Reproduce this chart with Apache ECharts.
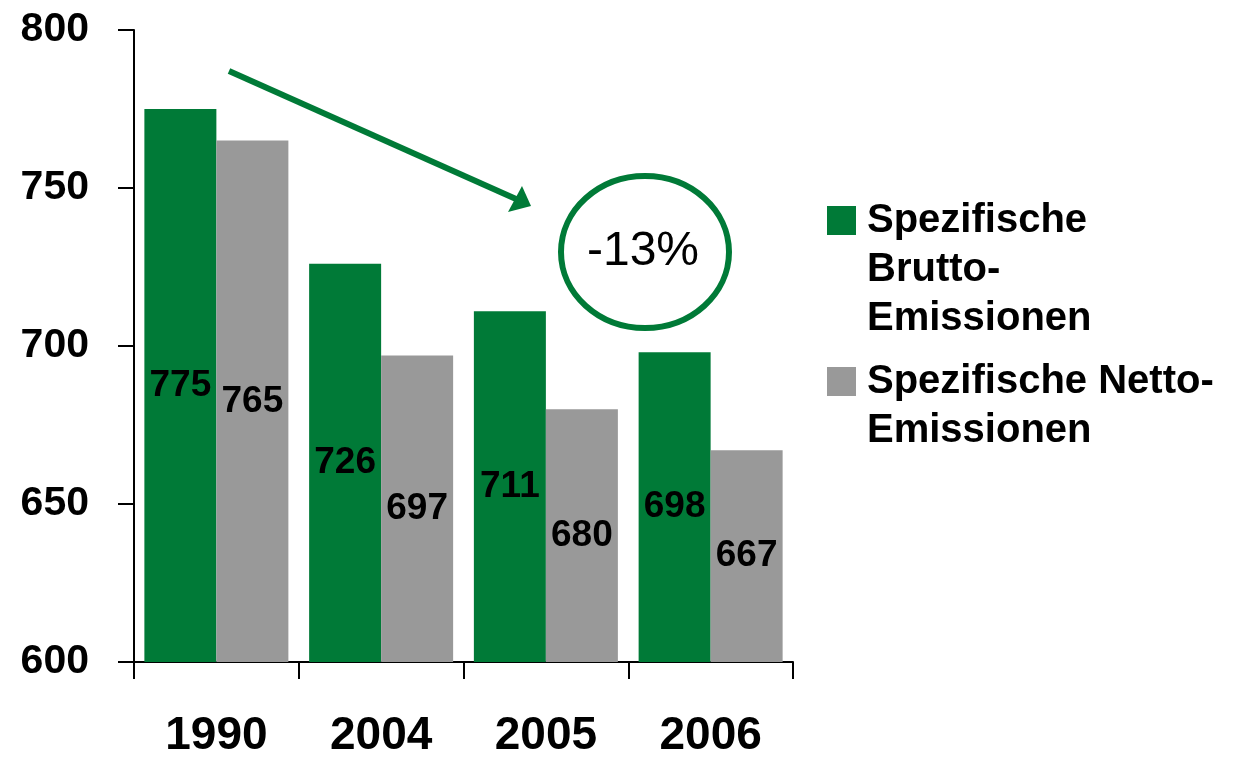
<!DOCTYPE html>
<html>
<head>
<meta charset="utf-8">
<script src="https://cdn.jsdelivr.net/npm/echarts@6/dist/echarts.min.js"></script>
<style>
  html, body { margin: 0; padding: 0; background: #fff; }
  #chart { width: 1233px; height: 759px; }
</style>
</head>
<body>
<div id="chart"></div>
<script>
// data
const years = ["1990", "2004", "2005", "2006"];
const brutto = [775, 726, 711, 698];
const netto = [765, 697, 680, 667];
const seriesNames = ["Spezifische Brutto-Emissionen", "Spezifische Netto-Emissionen"];
const legendLines = [
  ["Spezifische", "Brutto-", "Emissionen"],
  ["Spezifische Netto-", "Emissionen"]
];
const changeText = "-13%";

const GREEN = "#007a37";
const GRAY = "#999999";
const FONT = "Liberation Sans, Arial, sans-serif";
const LH = 49;

const chart = echarts.init(document.getElementById("chart"));

chart.setOption({
  backgroundColor: "#fff",
  animation: false,
  grid: { left: 134, right: 440, top: 30, bottom: 96 },
  legend: {
    orient: "vertical",
    left: 827,
    top: 98,
    padding: 0,
    itemWidth: 29,
    itemHeight: 29,
    itemGap: -35,
    icon: "rect",
    // legend text is centred on the icon, so pad with empty lines on top
    // to keep the first line level with the square
    formatter: function (name) {
      const lines = legendLines[seriesNames.indexOf(name)];
      const pad = new Array(lines.length).join("\n");
      return pad + lines.join("\n");
    },
    textStyle: {
      fontFamily: FONT,
      fontWeight: "bold",
      fontSize: 40,
      lineHeight: LH,
      color: "#000",
      padding: [0, 0, 0, 6]
    },
    data: seriesNames
  },
  xAxis: {
    type: "category",
    data: years,
    axisLine: { lineStyle: { color: "#000", width: 2 } },
    axisTick: { show: true, length: 17, lineStyle: { color: "#000", width: 2 } },
    axisLabel: {
      margin: 51,
      fontFamily: FONT,
      fontWeight: "bold",
      fontSize: 46,
      color: "#000"
    }
  },
  yAxis: {
    type: "value",
    min: 600,
    max: 800,
    interval: 50,
    splitLine: { show: false },
    axisLine: { show: true, lineStyle: { color: "#000", width: 2 } },
    axisTick: { show: true, length: 16, lineStyle: { color: "#000", width: 2 } },
    axisLabel: {
      margin: 45,
      fontFamily: FONT,
      fontWeight: "bold",
      fontSize: 41,
      color: "#000"
    }
  },
  series: [
    {
      name: seriesNames[0],
      type: "bar",
      data: brutto,
      barWidth: 72,
      barGap: "0%",
      itemStyle: { color: GREEN },
      label: {
        show: true,
        position: "inside",
        fontFamily: FONT,
        fontWeight: "bold",
        fontSize: 37,
        color: "#000"
      }
    },
    {
      name: seriesNames[1],
      type: "bar",
      data: netto,
      barWidth: 72,
      barGap: "0%",
      itemStyle: { color: GRAY },
      label: {
        show: true,
        position: "inside",
        fontFamily: FONT,
        fontWeight: "bold",
        fontSize: 37,
        color: "#000"
      }
    }
  ],
  graphic: [
    {
      type: "line",
      shape: { x1: 229, y1: 71, x2: 516, y2: 199 },
      style: { stroke: GREEN, lineWidth: 6 }
    },
    {
      type: "polygon",
      shape: { points: [[531, 206], [508, 212], [522, 186]] },
      style: { fill: GREEN }
    },
    {
      type: "ellipse",
      shape: { cx: 645, cy: 252, rx: 84, ry: 76 },
      style: { fill: "none", stroke: GREEN, lineWidth: 6 }
    },
    {
      type: "text",
      x: 643,
      y: 252,
      style: {
        text: changeText,
        font: "48px " + FONT,
        fill: "#000",
        align: "center",
        verticalAlign: "middle"
      }
    }
  ]
});
</script>
</body>
</html>
